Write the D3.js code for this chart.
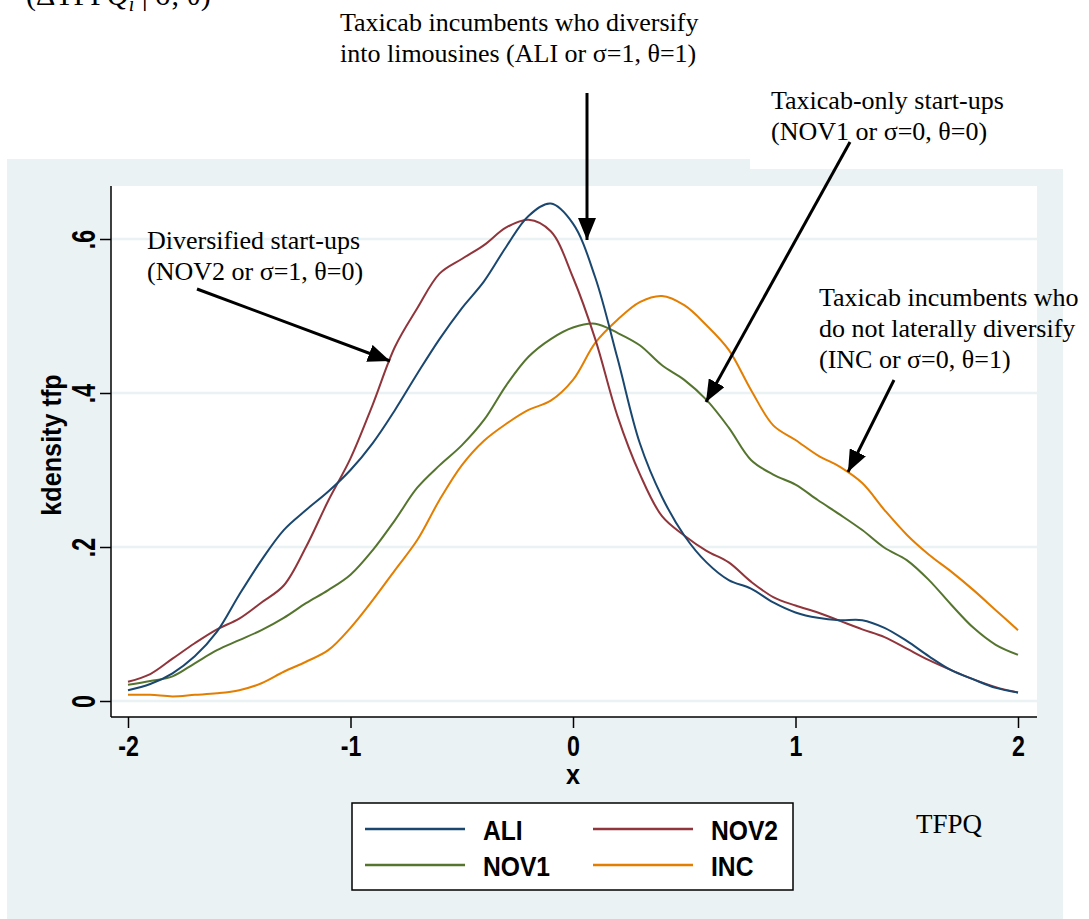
<!DOCTYPE html>
<html>
<head>
<meta charset="utf-8">
<script src="https://cdn.jsdelivr.net/npm/d3@7"></script>
<style>
  body { margin: 0; background: #fff; }
  .serif { font-family: "Liberation Serif", "Times New Roman", serif; fill: #000; }
  .sans { font-family: "Liberation Sans", Arial, sans-serif; font-weight: bold; fill: #000; }
</style>
</head>
<body>
<svg width="1089" height="919"></svg>
<script>
// kdensity of tfp by group
var xs = [-2, -1.9, -1.8, -1.7, -1.6, -1.5, -1.4, -1.3, -1.2, -1.1, -1,
          -0.9, -0.8, -0.7, -0.6, -0.5, -0.4, -0.3, -0.2, -0.1, 0,
          0.1, 0.2, 0.3, 0.4, 0.5, 0.6, 0.7, 0.8, 0.9, 1,
          1.1, 1.2, 1.3, 1.4, 1.5, 1.6, 1.7, 1.8, 1.9, 2];

var ali  = [.014, .022, .036, .058, .09, .138, .183, .222, .248, .272, .30,
            .335, .378, .425, .47, .51, .545, .59, .63, .646, .62,
            .55, .445, .335, .265, .215, .18, .157, .146, .128, .115,
            .108, .105, .105, .095, .078, .058, .04, .028, .017, .011];
var nov2 = [.025, .035, .055, .075, .093, .107, .128, .15, .2, .26, .315,
            .385, .46, .51, .555, .574, .592, .615, .625, .61, .55,
            .47, .37, .295, .24, .215, .195, .18, .155, .135, .124,
            .115, .104, .093, .083, .068, .053, .04, .028, .018, .011];
var nov1 = [.021, .026, .032, .049, .066, .079, .092, .108, .127, .144, .164,
            .196, .235, .277, .306, .332, .365, .41, .447, .47, .485,
            .49, .478, .462, .436, .417, .391, .355, .313, .294, .281,
            .261, .242, .222, .199, .183, .157, .125, .095, .073, .06];
var inc  = [.008, .008, .006, .008, .01, .014, .023, .038, .051, .066, .095,
            .131, .17, .209, .261, .306, .338, .36, .378, .39, .417,
            .465, .495, .518, .526, .514, .488, .456, .404, .358, .339,
            .319, .304, .283, .248, .216, .19, .168, .144, .118, .092];

var seriesNames = ['ALI', 'NOV2', 'NOV1', 'INC'];
var colors = {ALI: '#1a476f', NOV2: '#90353b', NOV1: '#55752f', INC: '#e37e00'};
var xTicks = [-2, -1, 0, 1, 2];
var yTicks = [0, .2, .4, .6];

var svg = d3.select('svg');

var x = d3.scaleLinear().domain([-2, 2]).range([128, 1018]);
var y = d3.scaleLinear().domain([0, 0.6]).range([701, 239]);

// outer grey region and plot region
svg.append('rect').attr('x', 7).attr('y', 159).attr('width', 1056).attr('height', 760).attr('fill', '#eaf2f3');
svg.append('rect').attr('x', 111).attr('y', 186).attr('width', 926).attr('height', 531).attr('fill', '#fff');

// grid
svg.selectAll('.grid').data(yTicks).enter().append('line')
    .attr('x1', 111).attr('x2', 1037)
    .attr('y1', function(d) { return y(d); }).attr('y2', function(d) { return y(d); })
    .attr('stroke', '#eaf2f3').attr('stroke-width', 2.5);

// curves
var data = {ALI: ali, NOV2: nov2, NOV1: nov1, INC: inc};
var line = d3.line()
    .x(function(d) { return x(d[0]); })
    .y(function(d) { return y(d[1]); })
    .curve(d3.curveCatmullRom.alpha(0.5));

['INC', 'NOV1', 'NOV2', 'ALI'].forEach(function(k) {
    svg.append('path')
        .datum(xs.map(function(v, i) { return [v, data[k][i]]; }))
        .attr('d', line)
        .attr('fill', 'none')
        .attr('stroke', colors[k])
        .attr('stroke-width', 2);
});

// axes
var yAxis = svg.append('g').attr('transform', 'translate(111,0)')
    .call(d3.axisLeft(y).tickValues(yTicks).tickSize(11).tickSizeOuter(0)
        .tickFormat(function(d) { return d === 0 ? '0' : d3.format('.1f')(d).replace('0.', '.'); }));
yAxis.select('.domain').remove();
yAxis.selectAll('.tick line').attr('stroke', '#000').attr('stroke-width', 1.5);
yAxis.selectAll('.tick text')
    .attr('class', 'sans')
    .attr('font-size', 33)
    .attr('text-anchor', 'middle')
    .attr('x', null).attr('dy', null)
    .attr('transform', 'translate(-16,0) rotate(-90) scale(0.7,1)');

var xAxis = svg.append('g').attr('transform', 'translate(0,717)')
    .call(d3.axisBottom(x).tickValues(xTicks).tickSize(11).tickSizeOuter(0)
        .tickFormat(function(d) { return String(d); }));
xAxis.select('.domain').remove();
xAxis.selectAll('.tick line').attr('stroke', '#000').attr('stroke-width', 1.5);
xAxis.selectAll('.tick text')
    .attr('class', 'sans')
    .attr('font-size', 29)
    .attr('y', null).attr('dy', null)
    .attr('transform', 'translate(0,39) scale(0.8,1)');

svg.append('line').attr('x1', 111).attr('x2', 111).attr('y1', 186).attr('y2', 717)
    .attr('stroke', '#000').attr('stroke-width', 1.5);
svg.append('line').attr('x1', 111).attr('x2', 1037).attr('y1', 717).attr('y2', 717)
    .attr('stroke', '#000').attr('stroke-width', 1.5);

svg.append('text').attr('class', 'sans').attr('font-size', 28).attr('text-anchor', 'middle')
    .attr('transform', 'translate(61,445) rotate(-90) scale(0.9,1)')
    .text('kdensity tfp');
svg.append('text').attr('class', 'sans').attr('font-size', 28).attr('text-anchor', 'middle')
    .attr('transform', 'translate(573,784) scale(0.9,1)')
    .text('x');

// legend
svg.append('rect').attr('x', 352).attr('y', 803).attr('width', 441).attr('height', 87)
    .attr('fill', '#fff').attr('stroke', '#000').attr('stroke-width', 1.5);
var legendPos = {ALI: [365, 829], NOV2: [593, 829], NOV1: [365, 865], INC: [593, 865]};
seriesNames.forEach(function(k) {
    var p = legendPos[k];
    svg.append('line').attr('x1', p[0]).attr('x2', p[0] + 100).attr('y1', p[1]).attr('y2', p[1])
        .attr('stroke', colors[k]).attr('stroke-width', 2.5);
    svg.append('text').attr('class', 'sans').attr('font-size', 28)
        .attr('transform', 'translate(' + (p[0] + 118) + ',' + (p[1] + 11) + ') scale(0.88,1)')
        .text(k);
});

svg.append('text').attr('class', 'serif').attr('font-size', 27)
    .attr('x', 916).attr('y', 833).text('TFPQ');

// annotations
svg.append('rect').attr('x', 750).attr('y', 80).attr('width', 313).attr('height', 89).attr('fill', '#fff');

var notes = [
    {x: 340, y: 31, lines: ['Taxicab incumbents who diversify', 'into limousines (ALI or \u03c3=1, \u03b8=1)']},
    {x: 771, y: 109, lines: ['Taxicab-only start-ups', '(NOV1 or \u03c3=0, \u03b8=0)']},
    {x: 147, y: 249, lines: ['Diversified start-ups', '(NOV2 or \u03c3=1, \u03b8=0)']},
    {x: 819, y: 306, lines: ['Taxicab incumbents who', 'do not laterally diversify', '(INC or \u03c3=0, \u03b8=1)']}
];
notes.forEach(function(n) {
    var t = svg.append('text').attr('class', 'serif').attr('font-size', 26);
    n.lines.forEach(function(s, i) {
        t.append('tspan').attr('x', n.x).attr('y', n.y + i * 31).text(s);
    });
});

// cut off title at top
var cut = svg.append('text').attr('class', 'serif').attr('font-size', 30).attr('x', 26).attr('y', 5);
cut.append('tspan').text('(\u0394TFP');
cut.append('tspan').attr('font-style', 'italic').text('Q');
cut.append('tspan').attr('font-style', 'italic').attr('font-size', 20).attr('dy', 6).text('i');
cut.append('tspan').attr('dy', -6).text(' | \u03c3, \u03b8)');

svg.append('defs').append('marker')
    .attr('id', 'head').attr('markerUnits', 'userSpaceOnUse')
    .attr('markerWidth', 24).attr('markerHeight', 18)
    .attr('refX', 22).attr('refY', 9).attr('orient', 'auto')
    .append('path').attr('d', 'M0,0 L22,9 L0,18 Z').attr('fill', '#000');

var arrows = [[587, 93, 587, 240], [850, 142, 706, 402], [197, 289, 390, 361], [894, 380, 848, 472]];
arrows.forEach(function(a) {
    svg.append('line').attr('x1', a[0]).attr('y1', a[1]).attr('x2', a[2]).attr('y2', a[3])
        .attr('stroke', '#000').attr('stroke-width', 3)
        .attr('marker-end', 'url(#head)');
});
</script>
</body>
</html>
